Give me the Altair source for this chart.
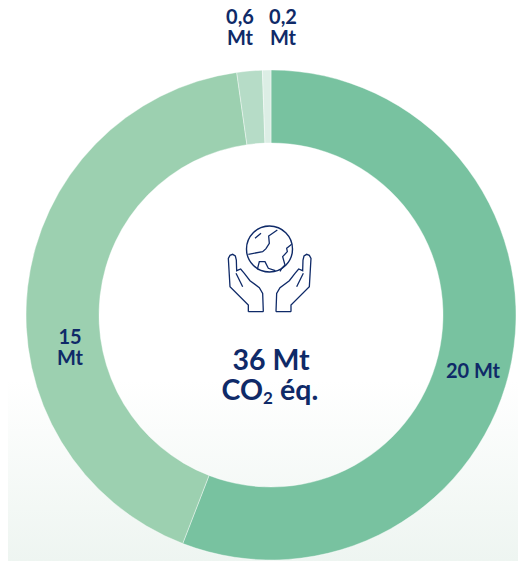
import altair as alt
import pandas as pd

# ---- data ----
categories = ["A", "B", "C", "D"]
values = [20, 15, 0.6, 0.2]
colors = ["#78c2a0", "#9cd0b0", "#b6dcc7", "#dceee5"]
ink = "#0f2a68"
W, H = 510, 553
CX, CY = 263, 307

df = pd.DataFrame({"cat": categories, "val": values, "ord": range(4)})

bg = alt.Chart(pd.DataFrame({"a": [0]})).mark_rect(
    color=alt.Gradient(
        gradient="linear", x1=0, x2=0, y1=0, y2=1,
        stops=[alt.GradientStop(offset=0, color="#ffffff"),
               alt.GradientStop(offset=1, color="#eef5f1")],
    )
).encode(x=alt.value(0), x2=alt.value(W), y=alt.value(372), y2=alt.value(H))

donut = alt.Chart(df).mark_arc(radius=245, radius2=172, stroke="#ffffff", strokeWidth=0.4).encode(
    theta=alt.Theta("val:Q", stack=True, scale=alt.Scale(range=[0, 6.28318530718])),
    order=alt.Order("ord:Q"),
    color=alt.Color("cat:N", scale=alt.Scale(domain=categories, range=colors), legend=None),
    x=alt.value(CX),
    y=alt.value(CY),
)


def text(label, x, y, size=20, weight=700, align="center", line=21):
    return alt.Chart(pd.DataFrame({"t": [label]})).mark_text(
        font="Lato", fontSize=size, fontWeight=weight, color=ink, align=align,
        baseline="middle", lineBreak="\n", lineHeight=line,
    ).encode(text="t:N", x=alt.value(x), y=alt.value(y))


labels = [
    text("20 Mt", 465, 364),
    text("15\nMt", 62, 330),
    text("0,6\nMt", 232, 10),
    text("0,2\nMt", 275, 10),
    text("36 Mt", 263, 353, size=28.5, weight=700),
    text("CO", 255, 383, size=28.5, weight=700, align="right"),
    text("2", 255, 391, size=17, weight=700, align="left"),
    text("éq.", 272, 383, size=28.5, weight=700, align="left"),
]

# ---- icon ----
ICX, ICY, SCALE = 261.33, 262, 130.0


def path(*lines):
    out = []
    for pts in lines:
        out.append("M" + "L".join(
            f"{(x - 208) / SCALE:.4f},{(y - 180) / SCALE:.4f}" for x, y in pts))
    return "".join(out)


left = [(145, 305), (145, 285), (90, 230), (85, 145), (90, 136), (98, 133), (106, 138), (109, 150),
        (110, 182), (122, 177), (133, 190), (150, 212), (178, 233), (188, 250), (190, 305)]
thumb = [(108, 190), (128, 230)]
bottom = [(145, 305), (190, 305)]
mirror = lambda pts: [(418 - x, y) for x, y in pts]
land = [
    [(232, 60), (206, 78), (208, 100), (198, 116), (188, 125), (145, 133)],
    [(275, 103), (260, 115), (262, 125), (248, 140), (255, 165), (245, 175), (240, 184)],
    [(172, 178), (178, 155), (195, 155), (205, 175), (226, 182)],
    [(165, 85), (183, 70)],
]
hands = path(left, thumb, bottom, mirror(left), mirror(thumb), mirror(bottom), *land)

icon = alt.Chart(pd.DataFrame({"a": [0]})).mark_point(
    shape=hands, size=(2 * SCALE / 3) ** 2, filled=False, stroke=ink, strokeWidth=1.3, opacity=1,
).encode(x=alt.value(ICX), y=alt.value(ICY))

globe = alt.Chart(pd.DataFrame({"a": [0]})).mark_point(
    shape="circle", size=46 ** 2, filled=False, stroke=ink, strokeWidth=1.4, opacity=1,
).encode(x=alt.value(261.5), y=alt.value(241))

chart = alt.layer(bg, donut, icon, globe, *labels).properties(
    width=W, height=H, padding=0, autosize=alt.AutoSizeParams(type="none"),
).configure_view(stroke=None)

chart.save("out.html", embed_options={"renderer": "svg", "actions": False})
